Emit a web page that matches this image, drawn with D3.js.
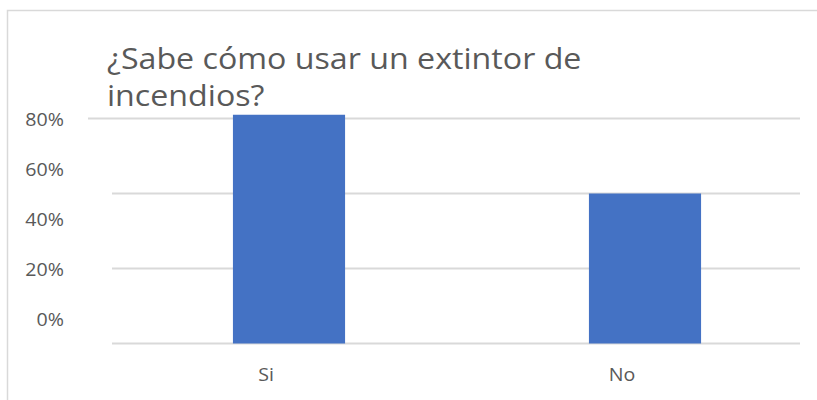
<!DOCTYPE html>
<html><head><meta charset="utf-8">
<script src="https://cdn.jsdelivr.net/npm/d3@7"></script>
<style>body{margin:0;background:#fff;}svg{display:block;font-family:"Open Sans","Noto Sans",sans-serif;}</style>
</head><body>
<script>
const titleLines = ["¿Sabe cómo usar un extintor de", "incendios?"];
const categories = ["Si", "No"];
const values = [0.61, 0.40];
const gridValues = [0, 0.2, 0.4, 0.6];
const tickLabels = ["80%", "60%", "40%", "20%", "0%"];

const W = 817, H = 400;
const SX = 1.09; // horizontal stretch of text in the reference
const svg = d3.select("body").append("svg").attr("width", W).attr("height", H);

// frame
svg.append("rect").attr("x", 7.5).attr("y", 10.5).attr("width", 830).attr("height", 420)
  .attr("fill", "#fff").attr("stroke", "#d9d9d9").attr("stroke-width", 1.5);

const x = d3.scaleBand().domain(categories).range([111, 823]).paddingInner(0.685).paddingOuter(0.3425);
const y = d3.scaleLinear().domain([0, 0.6]).range([343.5, 118.5]);
const yLab = d3.scalePoint().domain(tickLabels).range([120, 320]);

// gridlines
svg.append("g").selectAll("line").data(gridValues).join("line")
  .attr("x1", d => d === 0.6 ? 88 : 112).attr("x2", 800)
  .attr("y1", d => y(d)).attr("y2", d => y(d))
  .attr("stroke", "#d9d9d9").attr("stroke-width", 2);

// bars
svg.append("g").selectAll("rect").data(values).join("rect")
  .attr("x", (d, i) => x(categories[i])).attr("width", x.bandwidth())
  .attr("y", d => y(d)).attr("height", d => y(0) - y(d))
  .attr("fill", "#4472c4");

// y labels
svg.append("g").selectAll("text").data(tickLabels).join("text")
  .attr("transform", d => `translate(64,${yLab(d)}) scale(${SX},1)`).attr("dy", "0.35em")
  .attr("text-anchor", "end").attr("font-size", 18).attr("fill", "#595959").text(d => d);

// x axis labels
const xa = svg.append("g").attr("transform", "translate(-23,344)")
  .call(d3.axisBottom(x).tickSize(0).tickPadding(0));
xa.select(".domain").remove();
xa.selectAll("text").attr("dy", null).attr("y", null)
  .attr("transform", `translate(0,37) scale(${SX},1)`)
  .attr("font-size", 18).attr("fill", "#595959").attr("font-family", "'Open Sans','Noto Sans',sans-serif");

// title
svg.append("g").selectAll("text").data(titleLines).join("text")
  .attr("transform", (d, i) => `translate(107,${69 + i * 37}) scale(1.11,1)`)
  .attr("font-size", 29).attr("fill", "#595959").text(d => d);
</script>
</body></html>
